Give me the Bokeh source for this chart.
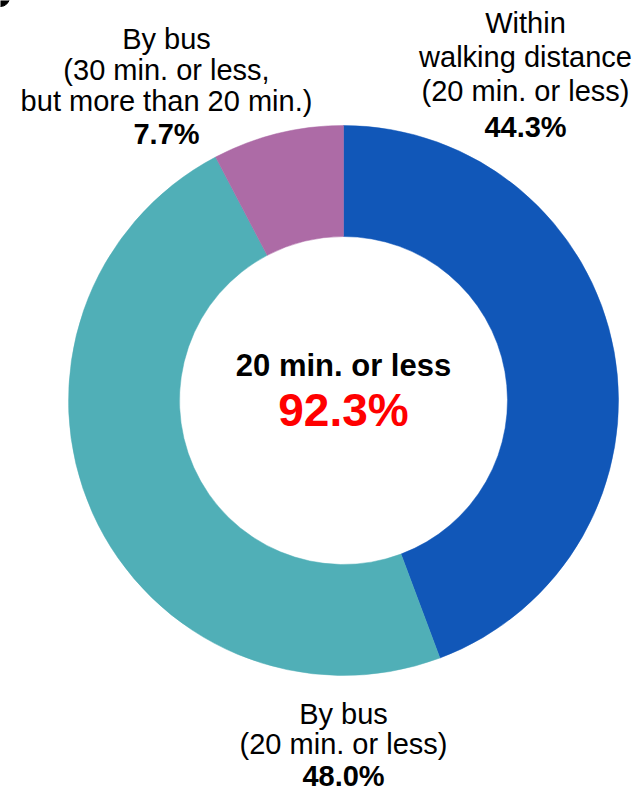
import math
from bokeh.plotting import figure
from bokeh.models import Range1d, ColumnDataSource
from bokeh.core.properties import value
from bokeh.embed import file_html
from bokeh.resources import INLINE

# ---- data ----
categories = ["Within walking distance (20 min. or less)",
              "By bus (20 min. or less)",
              "By bus (30 min. or less, but more than 20 min.)"]
shares = [44.3, 48.0, 7.7]
colors = ["#1157B8", "#50AFB7", "#AD6BA6"]
label_lines = [["Within", "walking distance", "(20 min. or less)"],
               ["By bus", "(20 min. or less)"],
               ["By bus", "(30 min. or less,", "but more than 20 min.)"]]
center_title = "20 min. or less"
center_value = 92.3

W, H = 635, 792
FONT = "Liberation Sans"

p = figure(width=W, height=H, x_range=Range1d(0, W), y_range=Range1d(0, H),
           output_backend="svg", toolbar_location=None, min_border=0)
p.axis.visible = False
p.grid.visible = False
p.outline_line_color = None
p.background_fill_color = "white"

def Y(py):
    return H - py

cx, cy = 343, Y(400)
r_out, r_in = 275, 164

total = sum(shares)
starts, ends = [], []
cum = 0.0
for s in shares:
    starts.append(math.pi / 2 - 2 * math.pi * cum / total)
    cum += s
    ends.append(math.pi / 2 - 2 * math.pi * cum / total)

src = ColumnDataSource(dict(x=[cx] * len(shares), y=[cy] * len(shares),
                            start=starts, end=ends, color=colors))
p.annular_wedge(x="x", y="y", inner_radius=r_in, outer_radius=r_out,
                start_angle="start", end_angle="end", direction="clock",
                fill_color="color", line_color="color", line_width=0.5, source=src)

# label anchors (pixel layout): center x, first line y, line spacing
anchors = [(525, 22), (343, 713), (166, 38)]
spacing = [34, 30, 31]

for i, (ax, ay) in enumerate(anchors):
    lines = label_lines[i]
    for j, ln in enumerate(lines):
        p.text(x=[ax], y=[Y(ay + j * spacing[i])], text=[ln],
               text_font=value(FONT), text_font_size="29px",
               text_align="center", text_baseline="middle", text_color="black")
    p.text(x=[ax], y=[Y(ay + len(lines) * spacing[i] + 2)],
           text=[f"{shares[i]:.1f}%"],
           text_font=value(FONT), text_font_size="29px", text_font_style="bold",
           text_align="center", text_baseline="middle", text_color="black")

p.text(x=[cx], y=[Y(365)], text=[center_title], text_font=value(FONT),
       text_font_size="31px", text_font_style="bold",
       text_align="center", text_baseline="middle", text_color="black")
p.text(x=[cx], y=[Y(409)], text=[f"{center_value:.1f}%"], text_font=value(FONT),
       text_font_size="46px", text_font_style="bold",
       text_align="center", text_baseline="middle", text_color="#FF0000")

# small black mark at top-left corner
p.scatter(x=[0], y=[Y(-3)], size=18, marker="circle", fill_color="black", line_color="black")

open("out.html", "w").write(file_html(p, INLINE))
